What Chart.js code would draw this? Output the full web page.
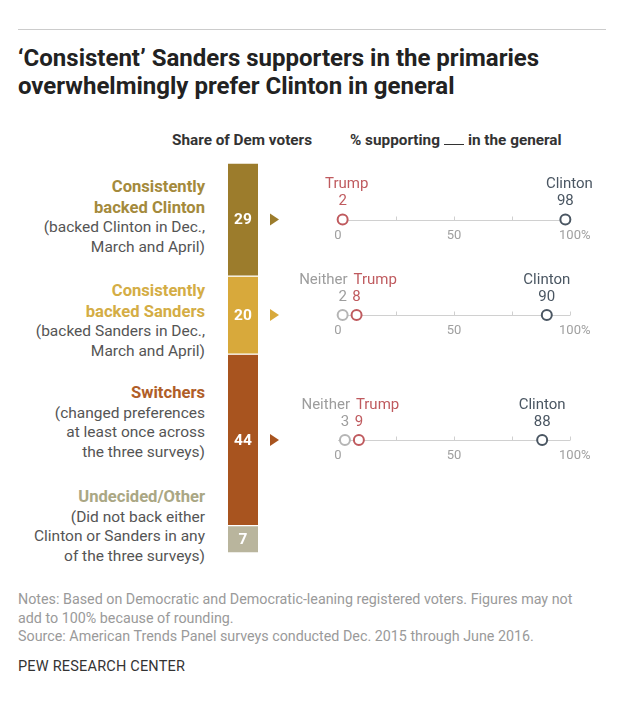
<!DOCTYPE html>
<html>
<head>
<meta charset="utf-8">
<script src="https://cdn.jsdelivr.net/npm/chart.js@4/dist/chart.umd.min.js"></script>
<style>
  body { margin: 0; background: #fff; font-family: Roboto, "Liberation Sans", sans-serif; }
  #page { position: relative; width: 640px; height: 726px; overflow: hidden; }
  .rule { position: absolute; left: 18px; top: 29px; width: 588px; height: 0; border-top: 1px solid #ccc; }
  .title { position: absolute; left: 18px; top: 44px; font-size: 24px; font-weight: bold; line-height: 28px; color: #222; }
  .hdr { position: absolute; top: 130px; font-size: 15.3px; line-height: 20px; color: #333; }
  .blank { display: inline-block; width: 20px; border-bottom: 1px solid #333; margin: 0 4px; }
  .grp { position: absolute; left: 0; width: 205px; text-align: right; font-size: 15.5px; line-height: 19.5px; color: #555; }
  .grp b { font-size: 16.6px; }
  .notes { position: absolute; left: 18px; top: 590px; font-size: 14.3px; line-height: 18.5px; color: #9a9a9a; }
  .pew { position: absolute; left: 18px; top: 658px; font-size: 14.5px; color: #333; letter-spacing: 0.2px; }
  canvas { position: absolute; }
</style>
</head>
<body>
<div id="page">
  <div class="rule"></div>
  <div class="title">‘Consistent’ Sanders supporters in the primaries<br>overwhelmingly prefer Clinton in general</div>
  <div class="hdr" style="left:172px;font-weight:bold;">Share of Dem voters</div>
  <div class="hdr" style="left:350px;"><b>% supporting<span class="blank"></span>in the general</b></div>

  <div class="grp" style="top:177px;"><b style="color:#a48a3c">Consistently<br>backed Clinton</b><br>(backed Clinton in Dec.,<br>March and April)</div>
  <div class="grp" style="top:281px;"><b style="color:#d4ad45">Consistently<br>backed Sanders</b><br>(backed Sanders in Dec.,<br>March and April)</div>
  <div class="grp" style="top:383px;"><b style="color:#b05e28">Switchers</b><br>(changed preferences<br>at least once across<br>the three surveys)</div>
  <div class="grp" style="top:487px;"><b style="color:#aaa784">Undecided/Other</b><br>(Did not back either<br>Clinton or Sanders in any<br>of the three surveys)</div>

  <canvas id="bar" style="left:220px;top:163px;width:70px;height:390px;"></canvas>
  <canvas id="dots" style="left:290px;top:163px;width:330px;height:390px;"></canvas>

  <div class="notes">Notes: Based on Democratic and Democratic-leaning registered voters. Figures may not<br>add to 100% because of rounding.<br>Source: American Trends Panel surveys conducted Dec. 2015 through June 2016.</div>
  <div class="pew">PEW RESEARCH CENTER</div>
</div>
<script>
// Share of Dem voters, top to bottom
const groups = ['Consistently backed Clinton', 'Consistently backed Sanders', 'Switchers', 'Undecided/Other'];
const shares = [29, 20, 44, 7];
const barColors = ['#9c7c2c', '#d8a93b', '#a8541f', '#b9b59d'];

// % supporting each candidate in the general, one entry per group row (first three groups)
const trump = [2, 8, 9];
const clinton = [98, 90, 88];
const neither = [null, 2, 3];
const axisTicks = [0, 50, 100];

const TRUMP_C = '#bf5a5e', CLINTON_C = '#4a5662', NEITHER_C = '#9d9d9d';

// row positions on the shared 0-100 vertical scale = middle of each bar segment
const rowPos = [];
let acc = 0;
shares.forEach(v => { rowPos.push(acc + v / 2); acc += v; });

const vScale = { min: 0, max: 100, reverse: true, display: false };

const barLabels = {
  id: 'barLabels',
  afterDatasetsDraw(chart) {
    const c = chart.ctx;
    c.save();
    chart.data.datasets.forEach((ds, i) => {
      const el = chart.getDatasetMeta(i).data[0];
      const cy = (el.y + el.base) / 2;
      c.fillStyle = '#fff';
      c.font = 'bold 15.5px Roboto, sans-serif';
      c.textAlign = 'center';
      c.textBaseline = 'middle';
      c.fillText(String(ds.data[0]), el.x, cy + 1);
      if (i < 3) {
        const ax = el.x + el.width / 2 + 12;
        c.fillStyle = ds.backgroundColor;
        c.beginPath();
        c.moveTo(ax, cy - 6);
        c.lineTo(ax + 9, cy);
        c.lineTo(ax, cy + 6);
        c.closePath();
        c.fill();
      }
    });
    c.restore();
  }
};

new Chart(document.getElementById('bar'), {
  type: 'bar',
  data: {
    labels: ['Dem voters'],
    datasets: shares.map((v, i) => ({
      label: groups[i],
      data: [v],
      backgroundColor: barColors[i],
      borderColor: '#fff',
      borderWidth: { top: 1, bottom: 1, left: 0, right: 0 },
      borderSkipped: false,
      barPercentage: 1,
      categoryPercentage: 1,
    })),
  },
  options: {
    animation: false,
    responsive: false,
    maintainAspectRatio: false,
    layout: { autoPadding: false, padding: { left: 8, right: 32, top: 0, bottom: 0 } },
    scales: {
      x: { stacked: true, display: false },
      y: { ...vScale, stacked: true },
    },
    plugins: { legend: { display: false }, tooltip: { enabled: false } },
  },
  plugins: [barLabels],
});

function rows(values) {
  return values.map((v, i) => (v === null ? null : { x: v, y: rowPos[i] })).filter(p => p);
}

const dotAxes = {
  id: 'dotAxes',
  beforeDatasetsDraw(chart) {
    const c = chart.ctx, xs = chart.scales.x, ys = chart.scales.y;
    c.save();
    for (let r = 0; r < trump.length; r++) {
      const y = Math.round(ys.getPixelForValue(rowPos[r])) + 0.5;
      c.strokeStyle = '#d0d0d0';
      c.lineWidth = 1;
      c.beginPath();
      c.moveTo(xs.getPixelForValue(0), y);
      c.lineTo(xs.getPixelForValue(100), y);
      [25, 50, 75, 100].forEach(t => {
        const x = Math.round(xs.getPixelForValue(t)) + 0.5;
        c.moveTo(x, y - 4);
        c.lineTo(x, y);
      });
      c.stroke();
      c.fillStyle = '#a0a0a0';
      c.font = '13px Roboto, sans-serif';
      c.textBaseline = 'middle';
      axisTicks.forEach(t => {
        const x = xs.getPixelForValue(t);
        if (t === 100) {
          const w = c.measureText('100').width;
          c.textAlign = 'left';
          c.fillText('100%', x - w / 2, y + 15);
        } else {
          c.textAlign = 'center';
          c.fillText(String(t), x, y + 15);
        }
      });
    }
    c.restore();
  },
  afterDatasetsDraw(chart) {
    const c = chart.ctx, xs = chart.scales.x, ys = chart.scales.y;
    c.save();
    c.textBaseline = 'middle';
    c.font = '15px Roboto, sans-serif';
    chart.data.datasets.forEach(ds => {
      ds.data.forEach(p => {
        const x = xs.getPixelForValue(p.x), y = ys.getPixelForValue(p.y);
        const r = rowPos.indexOf(p.y);
        c.fillStyle = ds.borderColor;
        c.textAlign = 'center';
        c.fillText(String(p.x), x, y - 18);
        let nx = x, align = 'center';
        if (ds.label === 'Neither') { nx = x + 5; align = 'right'; }
        else if (ds.label === 'Trump' && neither[r] !== null) { nx = x - 3; align = 'left'; }
        else if (ds.label === 'Trump') { nx = x + 4; }
        else if (ds.label === 'Clinton' && r === 0) { nx = x + 4; }
        c.textAlign = align;
        c.fillText(ds.label, nx, y - 35);
      });
    });
    c.restore();
  }
};

const pointStyle = { pointRadius: 5, pointBorderWidth: 2, pointBackgroundColor: '#fff', showLine: false };

new Chart(document.getElementById('dots'), {
  type: 'scatter',
  data: {
    datasets: [
      { label: 'Neither', data: rows(neither), borderColor: NEITHER_C, pointBorderColor: '#b5b5b5', ...pointStyle },
      { label: 'Trump', data: rows(trump), borderColor: TRUMP_C, pointBorderColor: TRUMP_C, ...pointStyle },
      { label: 'Clinton', data: rows(clinton), borderColor: CLINTON_C, pointBorderColor: CLINTON_C, ...pointStyle },
    ],
  },
  options: {
    animation: false,
    responsive: false,
    maintainAspectRatio: false,
    layout: { autoPadding: false, padding: { left: 48, right: 50, top: 0, bottom: 0 } },
    scales: {
      x: { type: 'linear', min: 0, max: 100, display: false },
      y: { ...vScale, type: 'linear' },
    },
    plugins: { legend: { display: false }, tooltip: { enabled: false } },
    clip: false,
  },
  plugins: [dotAxes],
});
</script>
</body>
</html>
